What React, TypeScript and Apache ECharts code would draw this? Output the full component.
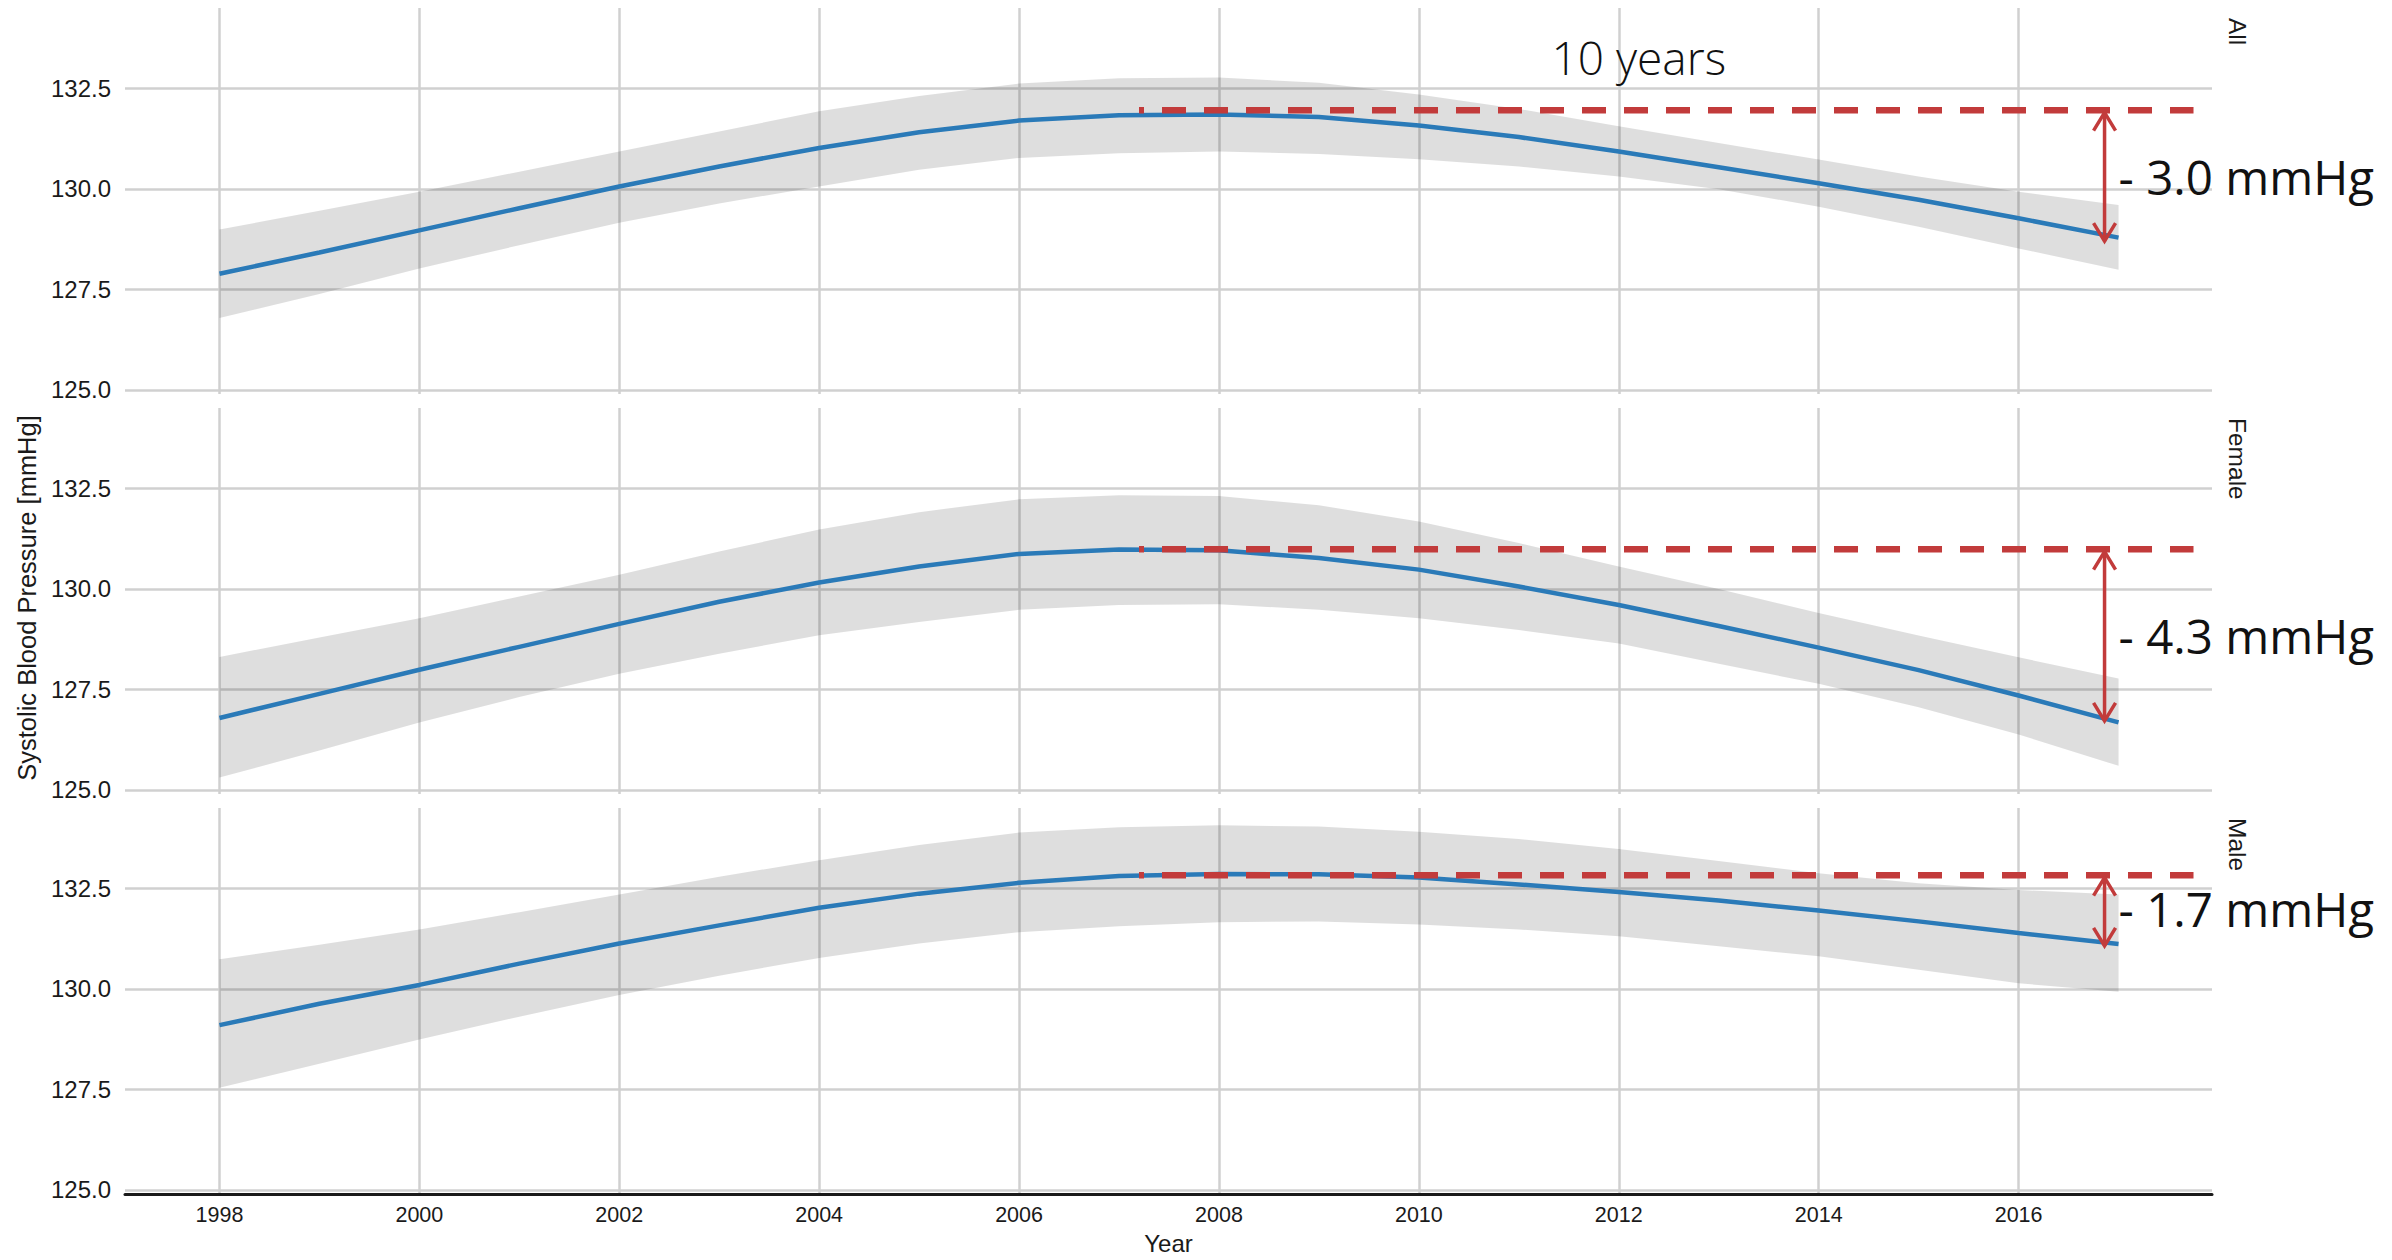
import React, { useEffect, useRef } from "react";
import * as echarts from "echarts";

// ---------- data ----------
const years = [1998, 1999, 2000, 2001, 2002, 2003, 2004, 2005, 2006, 2007, 2008, 2009, 2010, 2011, 2012, 2013, 2014, 2015, 2016, 2017];
const xTicks = [1998, 2000, 2002, 2004, 2006, 2008, 2010, 2012, 2014, 2016];
const yTicks = [125.0, 127.5, 130.0, 132.5];
const panels = ["All", "Female", "Male"];

const allFit = [127.89, 128.42, 128.97, 129.52, 130.06, 130.56, 131.02, 131.41, 131.70, 131.83, 131.85, 131.79, 131.58, 131.29, 130.93, 130.54, 130.14, 129.73, 129.27, 128.79];
const allUpper = [128.99, 129.46, 129.93, 130.43, 130.93, 131.43, 131.93, 132.31, 132.62, 132.75, 132.77, 132.64, 132.35, 131.99, 131.56, 131.14, 130.73, 130.31, 129.93, 129.60];
const allLower = [126.79, 127.39, 128.02, 128.60, 129.16, 129.64, 130.06, 130.48, 130.77, 130.89, 130.93, 130.87, 130.74, 130.56, 130.31, 129.99, 129.56, 129.06, 128.52, 127.99];

const femaleFit = [126.79, 127.39, 127.99, 128.56, 129.13, 129.68, 130.16, 130.56, 130.87, 130.98, 130.96, 130.77, 130.48, 130.06, 129.60, 129.08, 128.54, 127.98, 127.35, 126.68];
const femaleUpper = [128.31, 128.79, 129.27, 129.81, 130.35, 130.93, 131.48, 131.91, 132.23, 132.33, 132.31, 132.08, 131.68, 131.14, 130.56, 130.00, 129.40, 128.84, 128.30, 127.77];
const femaleLower = [125.31, 125.98, 126.68, 127.31, 127.89, 128.39, 128.85, 129.18, 129.48, 129.60, 129.62, 129.48, 129.27, 128.98, 128.64, 128.14, 127.64, 127.06, 126.38, 125.60];

const maleFit = [129.10, 129.63, 130.10, 130.63, 131.13, 131.58, 132.02, 132.37, 132.64, 132.81, 132.86, 132.85, 132.77, 132.60, 132.41, 132.20, 131.95, 131.68, 131.39, 131.12];
const maleUpper = [130.74, 131.10, 131.48, 131.91, 132.35, 132.79, 133.20, 133.58, 133.89, 134.02, 134.07, 134.04, 133.91, 133.73, 133.48, 133.18, 132.88, 132.63, 132.46, 132.35];
const maleLower = [127.54, 128.14, 128.74, 129.31, 129.85, 130.33, 130.77, 131.13, 131.41, 131.56, 131.66, 131.68, 131.60, 131.48, 131.31, 131.06, 130.81, 130.48, 130.14, 129.93];

const peakLevels = [131.96, 130.99, 132.83];
const dashRange = [2007.2, 2017.75];
const arrowX = 2016.86;
const arrowTops = [131.9, 130.93, 132.77];
const arrowBottoms = [128.7, 126.72, 131.07];
const diffLabels = ["- 3.0 mmHg", "- 4.3 mmHg", "- 1.7 mmHg"];
const diffLabelX = 2017.0;
const diffLabelY = [130.3, 128.85, 132.0];
const spanLabel = "10 years";
const spanLabelPos = [2012.2, 133.29];

const fits = [allFit, femaleFit, maleFit];
const uppers = [allUpper, femaleUpper, maleUpper];
const lowers = [allLower, femaleLower, maleLower];

// ---------- style / layout ----------
const W = 2392;
const H = 1260;
const GRID_LEFT = 125;
const GRID_WIDTH = 2087;
const GRID_TOPS = [8, 408, 808];
const GRID_HEIGHT = 386;
const X_MIN = 1997.055;
const X_MAX = 2017.935;
const Y_MIN = 124.9;
const Y_MAX = 134.5;
const GRID_COLOR = "#d0d0d0";
const BAND_COLOR = "rgba(0,0,0,0.13)";
const BLUE = "#2a7ab8";
const RED = "#c23b3b";
const TEXT = "#1a1a1a";
const SANS = "'Liberation Sans', Arial, sans-serif";
const ANNOT = "'Open Sans', 'Noto Sans', sans-serif";

function buildOption() {
  const grid = panels.map((_, i) => ({
    left: GRID_LEFT,
    top: GRID_TOPS[i],
    width: GRID_WIDTH,
    height: GRID_HEIGHT,
  }));

  const xAxis = panels.map((_, i) => ({
    type: "value",
    gridIndex: i,
    min: X_MIN,
    max: X_MAX,
    axisLine: { show: i === 2, onZero: false, lineStyle: { color: TEXT, width: 3 } },
    axisTick: { show: false, customValues: xTicks },
    axisLabel: {
      show: i === 2,
      customValues: xTicks,
      margin: 10,
      fontSize: 21.5,
      color: TEXT,
      fontFamily: SANS,
      formatter: (v: number) => String(v),
    },
    splitLine: { show: true, lineStyle: { color: GRID_COLOR, width: 2.5 } },
  }));

  const yAxis = panels.map((_, i) => ({
    type: "value",
    gridIndex: i,
    min: Y_MIN,
    max: Y_MAX,
    axisLine: { show: false },
    axisTick: { show: false, customValues: yTicks },
    axisLabel: {
      customValues: yTicks,
      margin: 14,
      fontSize: 24,
      color: TEXT,
      fontFamily: SANS,
      formatter: (v: number) => v.toFixed(1),
    },
    splitLine: { show: true, lineStyle: { color: GRID_COLOR, width: 2.5 } },
  }));

  const series: any[] = [];
  panels.forEach((_, i) => {
    // confidence band
    series.push({
      type: "custom",
      xAxisIndex: i,
      yAxisIndex: i,
      silent: true,
      z: 1,
      data: years.map((y, k) => [y, uppers[i][k], lowers[i][k]]),
      encode: { x: 0, y: [1, 2] },
      renderItem: (params: any, api: any) => {
        if (params.dataIndexInside !== 0) return null;
        const pts: number[][] = [];
        for (let k = 0; k < years.length; k++) pts.push(api.coord([years[k], uppers[i][k]]));
        for (let k = years.length - 1; k >= 0; k--) pts.push(api.coord([years[k], lowers[i][k]]));
        return { type: "polygon", shape: { points: pts }, style: { fill: BAND_COLOR } };
      },
    });
    // fitted line
    series.push({
      type: "line",
      xAxisIndex: i,
      yAxisIndex: i,
      z: 3,
      showSymbol: false,
      silent: true,
      data: years.map((y, k) => [y, fits[i][k]]),
      lineStyle: { color: BLUE, width: 4.5 },
    });
    // dashed peak level
    series.push({
      type: "line",
      xAxisIndex: i,
      yAxisIndex: i,
      z: 4,
      showSymbol: false,
      silent: true,
      data: [
        [dashRange[0], peakLevels[i]],
        [dashRange[1], peakLevels[i]],
      ],
      lineStyle: { color: RED, width: 6.5, type: [24, 18], dashOffset: 19, cap: "butt" },
    });
    // arrow + label
    series.push({
      type: "custom",
      xAxisIndex: i,
      yAxisIndex: i,
      silent: true,
      z: 5,
      clip: false,
      data: [[arrowX, arrowTops[i], arrowBottoms[i]]],
      encode: { x: 0, y: [1, 2] },
      renderItem: (params: any, api: any) => {
        const p1 = api.coord([arrowX, arrowTops[i]]);
        const p2 = api.coord([arrowX, arrowBottoms[i]]);
        const hw = 11;
        const hl = 18;
        const stroke = { stroke: RED, lineWidth: 3.5, fill: "none", lineJoin: "miter" };
        const lp = api.coord([diffLabelX, diffLabelY[i]]);
        const children: any[] = [
          { type: "line", shape: { x1: p1[0], y1: p1[1], x2: p2[0], y2: p2[1] }, style: stroke },
          {
            type: "polyline",
            shape: { points: [[p1[0] - hw, p1[1] + hl], [p1[0], p1[1]], [p1[0] + hw, p1[1] + hl]] },
            style: stroke,
          },
          {
            type: "polyline",
            shape: { points: [[p2[0] - hw, p2[1] - hl], [p2[0], p2[1]], [p2[0] + hw, p2[1] - hl]] },
            style: stroke,
          },
          {
            type: "text",
            x: lp[0],
            y: lp[1],
            style: {
              text: diffLabels[i],
              fontSize: 47.5,
              fontFamily: ANNOT,
              fill: "#111111",
              align: "left",
              verticalAlign: "middle",
            },
          },
        ];
        if (i === 0) {
          const sp = api.coord(spanLabelPos);
          children.push({
            type: "text",
            x: sp[0],
            y: sp[1],
            style: {
              text: spanLabel,
              fontSize: 46,
              fontWeight: 300,
              fontFamily: ANNOT,
              fill: "#111111",
              align: "center",
              verticalAlign: "middle",
            },
          });
        }
        return { type: "group", children };
      },
    });
  });

  const graphic: any[] = [
    {
      type: "text",
      x: 27,
      y: 598,
      rotation: Math.PI / 2,
      style: {
        text: "Systolic Blood Pressure [mmHg]",
        fontSize: 25.5,
        fontFamily: SANS,
        fill: TEXT,
        align: "center",
        verticalAlign: "middle",
      },
    },
    {
      type: "text",
      x: GRID_LEFT + GRID_WIDTH / 2,
      y: 1243,
      style: {
        text: "Year",
        fontSize: 24,
        fontFamily: SANS,
        fill: TEXT,
        align: "center",
        verticalAlign: "middle",
      },
    },
    ...panels.map((p, i) => ({
      type: "text",
      x: 2237,
      y: GRID_TOPS[i] + 10,
      rotation: -Math.PI / 2,
      style: {
        text: p,
        fontSize: 24.5,
        fontFamily: SANS,
        fill: TEXT,
        align: "left",
        verticalAlign: "middle",
      },
    })),
  ];

  return {
    animation: false,
    backgroundColor: "#ffffff",
    grid,
    xAxis,
    yAxis,
    series,
    graphic,
  };
}

export default function App() {
  const ref = useRef<HTMLDivElement>(null);
  useEffect(() => {
    document.body.style.margin = "0";
    if (!ref.current) return;
    const chart = echarts.init(ref.current, undefined, { renderer: "svg", width: W, height: H });
    chart.setOption(buildOption() as any);
    return () => chart.dispose();
  }, []);
  return <div ref={ref} style={{ width: W, height: H }} />;
}
